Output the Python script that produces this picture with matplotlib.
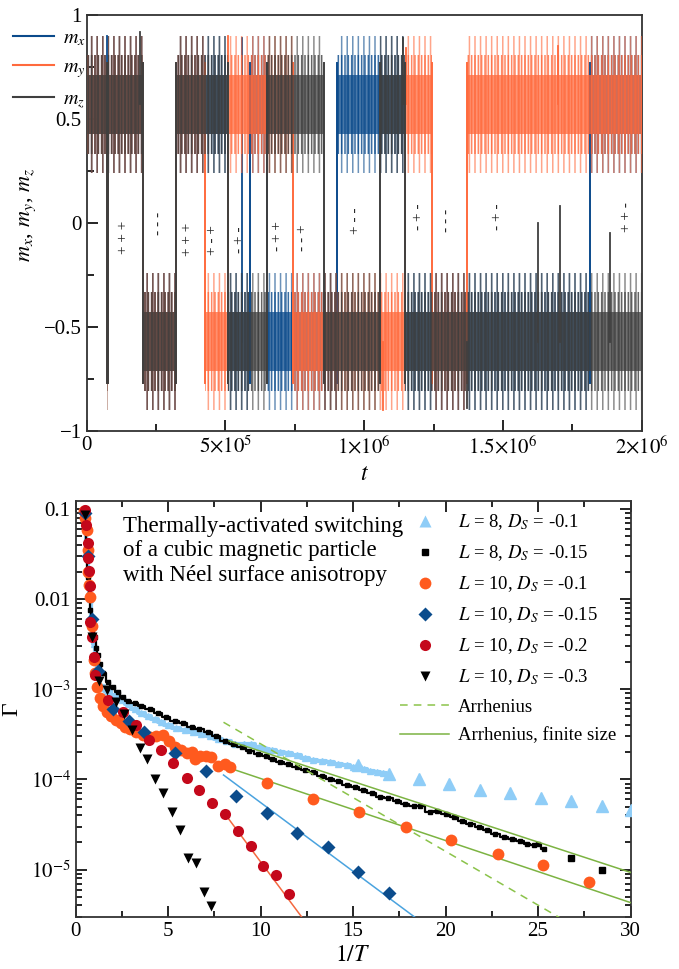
import numpy as np
import matplotlib.pyplot as plt
from matplotlib.ticker import MultipleLocator, FixedLocator, LogLocator, NullFormatter

plt.rcParams['font.family'] = ['Liberation Serif', 'DejaVu Serif']
plt.rcParams['mathtext.fontset'] = 'stix'
plt.rcParams['hatch.linewidth'] = 1.1

# ---------------- top panel: switching history ----------------
seg_edges = [0, 7.2e4, 7.6e4, 2.03e5, 3.22e5, 4.26e5, 5.09e5, 5.88e5, 6.50e5,
             7.44e5, 8.55e5, 9.02e5, 1.057e6, 1.147e6, 1.244e6, 1.370e6, 1.814e6, 2.0e6]
mx_sign = [1, 1, 1, -1, 1, 1, -1, 1, -1, -1, -1, 1, 1, -1, -1, -1, 1]
my_sign = [1, -1, 1, -1, 1, -1, 1, 1, 1, -1, -1, -1, -1, 1, -1, 1, 1]
mz_sign = [1, -1, 1, -1, 1, 1, -1, -1, 1, 1, -1, -1, 1, -1, -1, -1, -1]

# isolated spikes (time, component, value)
spike_t = [7.4e4, 1.92e5, 5.09e5, 5.6e5, 1.069e6, 1.141e6, 1.15e6, 1.369e6, 1.626e6, 1.70e6, 1.706e6, 1.886e6]
spike_c = ['mx', 'mz', 'my', 'mx', 'my', 'mz', 'my', 'mz', 'mz', 'my', 'mz', 'mz']
spike_v = [0.90, 0.92, 0.90, 0.89, -0.90, 0.89, 0.84, -0.89, 0.0, 0.85, 0.08, -0.05]

# sign annotations (mx, my, mz)
ann_t = [1.31e5, 2.57e5, 3.65e5, 4.55e5, 5.52e5, 6.89e5, 7.79e5, 9.67e5, 1.197e6, 1.298e6, 1.482e6, 1.947e6]
ann_y = [-0.07, 0.0, -0.08, -0.08, -0.08, -0.065, -0.07, 0.01, 0.03, 0.01, 0.03, 0.03]
ann_s = ['+++', '---', '+++', '+-+', '-+-', '-++', '--+', '+--', '-+-', '---', '-+-', '++-']

m_level = 0.57
comp_colors = {'mx': '#0b4a8b', 'my': '#ff6a3d', 'mz': '#3f3f3f'}
comp_signs = {'mx': mx_sign, 'my': my_sign, 'mz': mz_sign}
comp_labels = {'mx': '$m_x$', 'my': '$m_y$', 'mz': '$m_z$'}

xt_pos = [0, 5e5, 1e6, 1.5e6, 2e6]
xt_lab = ['0', r'$5{\times}10^5$', r'$1{\times}10^6$', r'$1.5{\times}10^6$', r'$2{\times}10^6$']
yt_pos = [-1, -0.5, 0, 0.5, 1]
yt_lab = ['\u22121', '\u22120.5', '0', '0.5', '1']

# ---------------- bottom panel: switching rate ----------------
l8_01_x = [0.49, 0.55, 0.62, 0.7, 0.8, 0.9, 1.0, 1.1, 1.2, 1.39, 1.7, 2.11, 2.5, 2.83, 3.2, 3.56, 3.9,
           4.28, 4.6, 5.0, 5.45, 5.9, 6.35, 6.81, 7.25, 7.71, 8.15, 8.61, 9.1, 9.5, 9.9, 10.3, 10.6,
           11.05, 11.5, 11.95, 12.4, 12.85, 13.3, 13.76, 14.2, 14.66, 15.0, 15.29, 15.6, 15.93,
           16.3, 16.6, 16.92]
l8_01_y = [0.085, 0.06, 0.04, 0.02, 0.01, 0.0055, 0.0032, 0.0021, 0.0016, 0.0011, 9.6e-4, 8.6e-4,
           7.6e-4, 6.9e-4, 6.0e-4, 5.4e-4, 5.0e-4, 4.7e-4, 4.3e-4, 4.0e-4, 3.7e-4, 3.5e-4, 3.35e-4,
           3.2e-4, 3.0e-4, 2.84e-4, 2.65e-4, 2.5e-4, 2.45e-4, 2.45e-4, 2.3e-4, 2.15e-4, 2.1e-4,
           2.0e-4, 1.95e-4, 1.85e-4, 1.72e-4, 1.63e-4, 1.6e-4, 1.56e-4, 1.48e-4, 1.43e-4, 1.38e-4,
           1.37e-4, 1.3e-4, 1.23e-4, 1.2e-4, 1.17e-4, 1.15e-4]
l8_01_sx = [15.27, 16.92, 18.54, 20.2, 21.85, 23.51, 25.14, 26.76, 28.44, 30.05]
l8_01_sy = [1.43e-4, 1.15e-4, 1.0e-4, 8.9e-5, 7.7e-5, 7.0e-5, 6.3e-5, 5.75e-5, 5.1e-5, 4.6e-5]

l8_015_x = [0.49, 0.55, 0.61, 0.67, 0.74, 0.81, 0.9, 0.98, 1.05, 1.12, 1.2, 1.3, 1.5, 1.75, 2.0,
            2.29, 2.55, 2.83, 3.2, 3.56, 4.0, 4.46, 4.9, 5.36, 5.8, 6.27, 6.7, 7.17, 7.6, 8.07,
            8.5, 8.98, 9.4, 9.88, 10.3, 10.6, 11.05, 11.5, 11.95, 12.4, 12.85, 13.3, 13.76, 14.2,
            14.66, 15.1, 15.56, 16.0, 16.46, 16.9, 17.37, 17.8, 18.27, 18.64, 19.18, 19.54, 20.0,
            20.44, 20.9, 21.34, 21.8, 22.25, 22.7, 23.15, 23.6, 24.05, 24.4, 24.77, 25.0, 25.31]
l8_015_y = [0.09, 0.06, 0.038, 0.0178, 0.011, 0.0076, 0.006, 0.005, 0.0038, 0.0029, 0.0024,
            0.00193, 0.0015, 0.0012, 0.00105, 9.3e-4, 8.3e-4, 7.5e-4, 7.0e-4, 6.6e-4, 6.0e-4,
            5.4e-4, 4.9e-4, 4.5e-4, 4.2e-4, 3.8e-4, 3.6e-4, 3.35e-4, 3.0e-4, 2.7e-4, 2.45e-4,
            2.29e-4, 2.05e-4, 1.93e-4, 1.8e-4, 1.7e-4, 1.56e-4, 1.48e-4, 1.37e-4, 1.28e-4, 1.2e-4,
            1.1e-4, 1.02e-4, 9.5e-5, 8.6e-5, 8.2e-5, 7.6e-5, 7.0e-5, 6.4e-5, 6.2e-5, 5.8e-5,
            5.4e-5, 5.1e-5, 5.1e-5, 4.4e-5, 4.5e-5, 4.1e-5, 3.8e-5, 3.5e-5, 3.2e-5, 3.0e-5,
            2.76e-5, 2.5e-5, 2.28e-5, 2.2e-5, 2.1e-5, 1.9e-5, 1.86e-5, 1.9e-5, 1.71e-5]
l8_015_sx = [26.8, 28.44]
l8_015_sy = [1.35e-5, 9.8e-6]

l10_01_x = [0.45, 0.52, 0.6, 0.65, 0.7, 0.75, 0.8, 0.9, 1.0, 1.05, 1.15, 1.3, 1.5, 1.7, 1.93, 2.2,
            2.45, 2.65, 2.95, 3.29, 3.65, 4.0, 4.35, 4.73, 5.05, 5.36, 5.7, 6.0, 6.27, 6.45, 6.75,
            7.08, 7.35, 7.71, 8.07, 8.34, 10.36, 12.86, 15.35, 17.84, 20.31, 22.81, 25.28, 27.75]
l10_01_y = [0.095, 0.08, 0.059, 0.035, 0.02, 0.0145, 0.0105, 0.005, 0.0021, 0.0015, 0.00106,
            8.0e-4, 6.6e-4, 5.6e-4, 5.1e-4, 4.6e-4, 4.2e-4, 3.8e-4, 3.6e-4, 3.36e-4, 3.1e-4,
            2.95e-4, 3.05e-4, 3.08e-4, 2.7e-4, 2.3e-4, 2.1e-4, 1.95e-4, 2.0e-4, 1.7e-4, 1.8e-4,
            1.8e-4, 1.78e-4, 1.42e-4, 1.47e-4, 1.37e-4, 9.2e-5, 6.0e-5, 4.3e-5, 3.0e-5, 2.12e-5,
            1.48e-5, 1.12e-5, 7.2e-6]

l10_015_x = [0.5, 0.7, 0.9, 1.2, 2.0, 2.9, 3.7, 5.36, 7.08, 8.7, 10.33, 11.95, 13.63, 15.29, 16.92]
l10_015_y = [0.09, 0.03, 0.006, 1.6e-3, 6.0e-4, 4.5e-4, 3.36e-4, 1.98e-4, 1.23e-4, 6.6e-5, 4.19e-5,
             2.53e-5, 1.77e-5, 9.3e-6, 5.46e-6]

l10_02_x = [0.49, 0.58, 0.67, 0.70, 0.72, 0.76, 0.81, 0.88, 0.98, 1.07, 1.75, 2.56, 3.25, 3.97,
            4.6, 5.27, 6.0, 6.68, 7.37, 8.09, 8.76, 9.46, 10.13, 10.82, 11.52]
l10_02_y = [0.098, 0.067, 0.0416, 0.0286, 0.0203, 0.0141, 0.00555, 0.00384, 0.0023, 0.00144,
            7.55e-4, 5.6e-4, 3.98e-4, 2.76e-4, 2.1e-4, 1.52e-4, 1.03e-4, 7.6e-5, 5.5e-5, 4.1e-5,
            2.67e-5, 1.81e-5, 1.1e-5, 8.6e-6, 5.4e-6]

l10_03_x = [0.49, 0.88, 1.25, 1.70, 2.17, 2.60, 3.05, 3.50, 3.85, 4.32, 4.75, 5.20, 5.65, 6.09,
            6.50, 6.92, 7.35]
l10_03_y = [0.086, 3.8e-3, 1.24e-3, 9.75e-4, 7.2e-4, 5.37e-4, 3.56e-4, 2.25e-4, 1.67e-4, 1.02e-4,
            7.1e-5, 4.33e-5, 2.76e-5, 1.33e-5, 1.17e-5, 5.65e-6, 3.9e-6]

# fitted lines (end points)
arr_x, arr_y = [8.0, 26.3], [4.31e-4, 2.82e-6]
fin1_x, fin1_y = [8.3, 30.0], [2.68e-4, 9.3e-6]
fin2_x, fin2_y = [7.9, 30.0], [1.43e-4, 4.3e-6]
fit015_x, fit015_y = [8.0, 18.5], [1.12e-4, 2.8e-6]
fit02_x, fit02_y = [8.0, 12.5], [4.35e-5, 2.5e-6]

note = 'Thermally-activated switching\nof a cubic magnetic particle\nwith N\u00e9el surface anisotropy'

# ======================================================================
fig = plt.figure(figsize=(6.79, 9.69), dpi=100)
ax1 = fig.add_axes([0.1277, 0.5552, 0.8173, 0.4293])
ax2 = fig.add_axes([0.1112, 0.0540, 0.8174, 0.4290])

# --- top panel: each component as a textured band around +-m_level ---
edges = np.array(seg_edges)
bands = [(0.33, '|||', 0.6), (0.24, '|||||', 0.8)]
zo = {'mx': 2, 'my': 3, 'mz': 4}
for name in ['mx', 'my', 'mz']:
    col = comp_colors[name]
    sg = np.array(comp_signs[name])
    lev = sg * m_level
    for i in range(len(sg)):
        xs = [edges[i], edges[i + 1]]
        for half, hat, a in bands:
            ax1.fill_between(xs, lev[i] - half, lev[i] + half, facecolor='none', edgecolor=col,
                             hatch=hat, linewidth=0, alpha=a, zorder=zo[name])
        ax1.fill_between(xs, lev[i] - 0.14, lev[i] + 0.14, facecolor=col, linewidth=0,
                         alpha=0.75, zorder=zo[name])
    for i in range(1, len(sg)):
        if sg[i] != sg[i - 1]:
            ax1.plot([edges[i], edges[i]], [lev[i - 1] + sg[i - 1] * 0.2, lev[i] + sg[i] * 0.2],
                     color=col, lw=1.4, zorder=zo[name])
    ax1.plot([], [], color=col, lw=1.5, label=comp_labels[name])

for t, c, v in zip(spike_t, spike_c, spike_v):
    k = np.searchsorted(edges, t) - 1
    base = comp_signs[c][k] * m_level
    ax1.plot([t, t], [base, v], color=comp_colors[c], lw=1.3, zorder=zo[c])

for t, y, s in zip(ann_t, ann_y, ann_s):
    ax1.text(t, y, ' '.join(s), rotation=90, ha='center', va='center', fontsize=11,
             color='#222222', zorder=6)

ax1.set_xlim(0, 2e6)
ax1.set_ylim(-1, 1)
ax1.xaxis.set_major_locator(FixedLocator(xt_pos))
ax1.set_xticklabels(xt_lab)
ax1.xaxis.set_minor_locator(MultipleLocator(2.5e5))
ax1.yaxis.set_major_locator(FixedLocator(yt_pos))
ax1.set_yticklabels(yt_lab)
ax1.yaxis.set_minor_locator(MultipleLocator(0.25))
ax1.tick_params(which='both', direction='in', labelsize=15, top=False, right=False, width=1.2)
ax1.tick_params(which='major', length=8)
ax1.tick_params(which='minor', length=5)
ax1.set_xlabel('$t$', fontsize=17, labelpad=4)
ax1.set_ylabel('$m_x$, $m_y$, $m_z$', fontsize=16)
ax1.yaxis.set_label_coords(-0.088, 0.52)
for sp in ax1.spines.values():
    sp.set_linewidth(1.3)
    sp.set_color('#333333')
ax1.legend(loc='upper left', bbox_to_anchor=(0.019, 0.970), bbox_transform=fig.transFigure,
           frameon=False, fontsize=14.5, handlelength=2.05, handletextpad=0.45, labelspacing=0.5,
           borderpad=0, borderaxespad=0)

# --- bottom panel ---
ax2.plot(l8_01_x, l8_01_y, color='#8fcdf7', lw=3.0, drawstyle='steps-mid', zorder=3)
ax2.plot(l8_01_x, l8_01_y, '^', color='#8fcdf7', ms=4, zorder=3)
ax2.plot(l8_01_sx, l8_01_sy, '^', color='#8fcdf7', ms=8, zorder=3, clip_on=True)
ax2.plot(l8_015_x, l8_015_y, color='black', lw=1.6, drawstyle='steps-mid', zorder=4)
ax2.plot(l8_015_x, l8_015_y, 's', color='black', ms=3, zorder=4)
ax2.plot(l8_015_sx, l8_015_sy, 's', color='black', ms=5, zorder=4)
ax2.plot(l10_01_x, l10_01_y, 'o', color='#ff5a1e', ms=8.5, mec='none', zorder=5)
ax2.plot(l10_015_x, l10_015_y, 'D', color='#0b4c8c', ms=7.5, mec='none', zorder=6)
ax2.plot(l10_02_x, l10_02_y, 'o', color='#c4081b', ms=8, mec='none', zorder=7)
ax2.plot(l10_03_x, l10_03_y, 'v', color='black', ms=7.5, mec='none', zorder=8)

ax2.plot(fit015_x, fit015_y, color='#4aa3df', lw=1.1, zorder=4)
ax2.plot(fit02_x, fit02_y, color='#f4683f', lw=1.1, zorder=4)
ax2.plot(arr_x, arr_y, color='#8bc34a', lw=1.1, ls=(0, (5, 4)), zorder=4)
ax2.plot(fin1_x, fin1_y, color='#7cb342', lw=1.1, zorder=4)
ax2.plot(fin2_x, fin2_y, color='#7cb342', lw=1.1, zorder=4)

# legend proxies
h = []
h.append(ax2.plot([], [], '^', color='#8fcdf7', ms=8, mec='none')[0])
h.append(ax2.plot([], [], 's', color='black', ms=5)[0])
h.append(ax2.plot([], [], 'o', color='#ff5a1e', ms=8.5, mec='none')[0])
h.append(ax2.plot([], [], 'D', color='#0b4c8c', ms=7.5, mec='none')[0])
h.append(ax2.plot([], [], 'o', color='#c4081b', ms=8, mec='none')[0])
h.append(ax2.plot([], [], 'v', color='black', ms=7.5, mec='none')[0])
h.append(ax2.plot([], [], color='#8bc34a', lw=1.1, ls=(0, (5, 4)))[0])
h.append(ax2.plot([], [], color='#7cb342', lw=1.1)[0])
labs = ['$L$ = 8, $D_S$ = -0.1', '$L$ = 8, $D_S$ = -0.15', '$L$ = 10, $D_S$ = -0.1',
        '$L$ = 10, $D_S$ = -0.15', '$L$ = 10, $D_S$ = -0.2', '$L$ = 10, $D_S$ = -0.3',
        'Arrhenius', 'Arrhenius, finite size']
ax2.legend(h, labs, loc='upper left', bbox_to_anchor=(0.565, 1.0), frameon=False, fontsize=13.5,
           handlelength=2.6, handletextpad=0.45, labelspacing=0.6, borderaxespad=0.2)

ax2.text(0.085, 0.965, note, transform=ax2.transAxes, ha='left', va='top', fontsize=16.5,
         linespacing=1.22)

ax2.set_yscale('log')
ax2.set_xlim(0, 30)
ax2.set_ylim(3e-6, 0.123)
ax2.xaxis.set_major_locator(MultipleLocator(5))
ax2.xaxis.set_minor_locator(MultipleLocator(2.5))
ax2.yaxis.set_major_locator(FixedLocator([1e-5, 1e-4, 1e-3, 1e-2, 1e-1]))
ax2.set_yticklabels(['$10^{-5}$', '$10^{-4}$', '$10^{-3}$', '0.01', '0.1'])
ax2.yaxis.set_minor_locator(LogLocator(base=10, subs=np.arange(2, 10)))
ax2.yaxis.set_minor_formatter(NullFormatter())
ax2.tick_params(which='both', direction='in', labelsize=15, top=True, right=True, width=1.2)
ax2.tick_params(which='major', length=8)
ax2.tick_params(which='minor', length=4.5)
ax2.set_xlabel('$1/T$', fontsize=17, labelpad=3)
ax2.set_ylabel('\u0393', fontsize=17, labelpad=6)
for sp in ax2.spines.values():
    sp.set_linewidth(1.3)
    sp.set_color('#333333')

fig.savefig('out.png', dpi=100)
